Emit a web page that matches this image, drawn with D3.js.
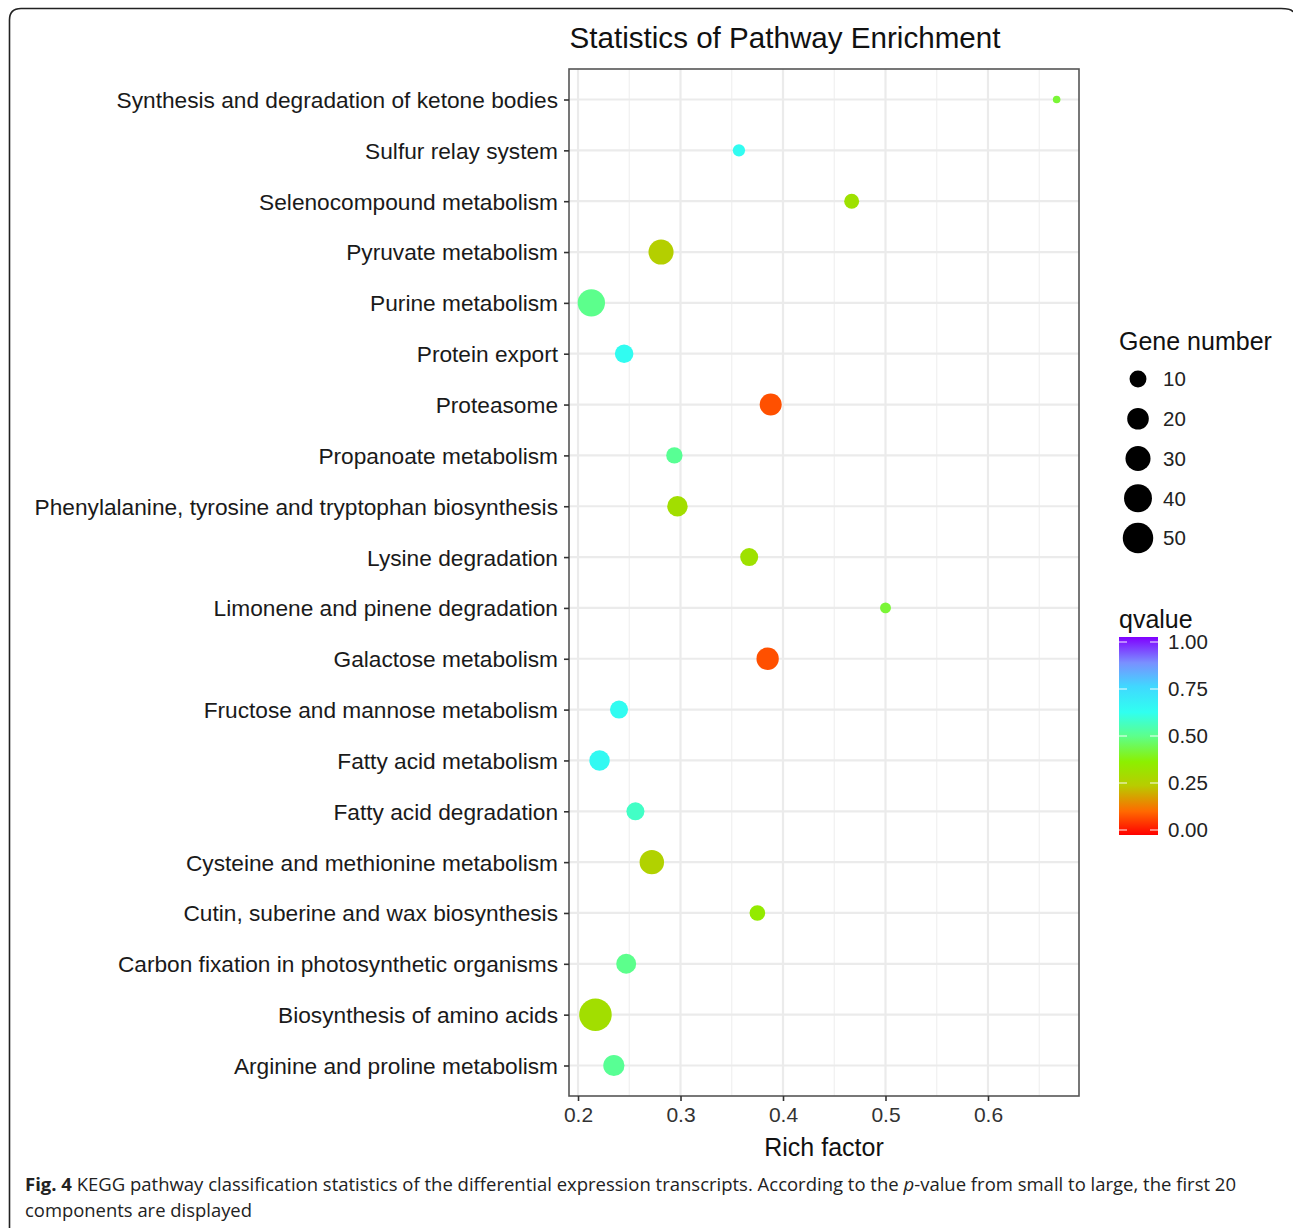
<!DOCTYPE html>
<html><head><meta charset="utf-8">
<script src="https://cdn.jsdelivr.net/npm/d3@7"></script>
<style>body{margin:0;background:#fff}svg{display:block}</style>
</head><body>
<svg id="c" width="1293" height="1228"></svg>
<script>
// ---- data (top to bottom as displayed) ----
const pathways = [
  "Synthesis and degradation of ketone bodies",
  "Sulfur relay system",
  "Selenocompound metabolism",
  "Pyruvate metabolism",
  "Purine metabolism",
  "Protein export",
  "Proteasome",
  "Propanoate metabolism",
  "Phenylalanine, tyrosine and tryptophan biosynthesis",
  "Lysine degradation",
  "Limonene and pinene degradation",
  "Galactose metabolism",
  "Fructose and mannose metabolism",
  "Fatty acid metabolism",
  "Fatty acid degradation",
  "Cysteine and methionine metabolism",
  "Cutin, suberine and wax biosynthesis",
  "Carbon fixation in photosynthetic organisms",
  "Biosynthesis of amino acids",
  "Arginine and proline metabolism"
];
const richFactor = [0.667,0.357,0.467,0.281,0.213,0.245,0.388,0.294,0.297,0.367,0.500,0.385,0.240,0.221,0.256,0.272,0.375,0.247,0.217,0.235];
const geneNumber = [2,4,7,30,38,13,21,9,17,12,3,22,12,17,12,28,8,16,59,19];
const qvalue     = [0.42,0.63,0.32,0.26,0.50,0.63,0.09,0.51,0.31,0.32,0.42,0.09,0.63,0.64,0.57,0.27,0.35,0.50,0.31,0.51];
const xTicks = [0.2,0.3,0.4,0.5,0.6];
const sizeBreaks = [10,20,30,40,50];
const qBreaks = [0.00,0.25,0.50,0.75,1.00];
const qStopPos = [0,0.12,0.25,0.37,0.5,0.62,0.75,0.87,1];
const qStopCol = ["#ff0000","#ff6a00","#b8cc00","#8cf000","#5cff8c","#30fff0","#40d8ff","#7a90ff","#8000ff"];

const svg = d3.select("#c");
const FONT = "'Liberation Sans', Arial, Helvetica, sans-serif";

// frame
svg.append("path")
  .attr("d","M9.5,1228 L9.5,20 Q9.5,8.5 21,8.5 L1281,8.5 Q1291.5,8.5 1293,12")
  .attr("fill","none").attr("stroke","#222").attr("stroke-width",1.6);

const P = {l:569, r:1079, t:69, b:1096};
const x = d3.scaleLinear().domain([0.1912,0.6888]).range([P.l,P.r]);
const y = d3.scalePoint().domain(pathways).range([P.t,P.b]).padding(0.6);
const rScale = d3.scaleLinear().domain([0, Math.sqrt(57)]).range([3.8, 3.8+1.65*Math.sqrt(57)]);
const r = v => rScale(Math.sqrt(Math.max(0, v-2)));
const col = d3.scaleLinear().domain(qStopPos).range(qStopCol).interpolate(d3.interpolateRgb);

const g = svg.append("g");
g.append("rect").attr("x",P.l).attr("y",P.t).attr("width",P.r-P.l).attr("height",P.b-P.t).attr("fill","#fff");
const minor = d3.range(0.25,0.70,0.1);
g.selectAll(".mn").data(minor).join("line")
  .attr("x1",d=>x(d)).attr("x2",d=>x(d)).attr("y1",P.t).attr("y2",P.b)
  .attr("stroke","#f0f0f0").attr("stroke-width",1.2);
g.selectAll(".mjx").data(xTicks).join("line")
  .attr("x1",d=>x(d)).attr("x2",d=>x(d)).attr("y1",P.t).attr("y2",P.b)
  .attr("stroke","#ebebeb").attr("stroke-width",2.2);
g.selectAll(".mjy").data(pathways).join("line")
  .attr("x1",P.l).attr("x2",P.r).attr("y1",d=>y(d)).attr("y2",d=>y(d))
  .attr("stroke","#ebebeb").attr("stroke-width",2.2);

g.selectAll(".pt").data(pathways).join("circle")
  .attr("cx",(d,i)=>x(richFactor[i])).attr("cy",d=>y(d))
  .attr("r",(d,i)=>r(geneNumber[i])).attr("fill",(d,i)=>col(qvalue[i]));

g.append("rect").attr("x",P.l).attr("y",P.t).attr("width",P.r-P.l).attr("height",P.b-P.t)
  .attr("fill","none").attr("stroke","#555").attr("stroke-width",1.6);

const yAx = svg.append("g").attr("transform",`translate(${P.l},0)`)
  .call(d3.axisLeft(y).tickSize(5).tickPadding(6));
yAx.select(".domain").remove();
yAx.selectAll("line").attr("stroke","#333").attr("stroke-width",1.6);
yAx.selectAll("text").attr("font-family",FONT).attr("font-size",22.7).attr("fill","#1a1a1a").attr("dy","0.35em");

const xAx = svg.append("g").attr("transform",`translate(0,${P.b})`)
  .call(d3.axisBottom(x).tickValues(xTicks).tickSize(5).tickPadding(6).tickFormat(d3.format(".1f")));
xAx.select(".domain").remove();
xAx.selectAll("line").attr("stroke","#333").attr("stroke-width",1.6);
xAx.selectAll("text").attr("font-family",FONT).attr("font-size",21).attr("fill","#333");

svg.append("text").attr("x",785).attr("y",48).attr("text-anchor","middle")
  .attr("font-family",FONT).attr("font-size",29.6).attr("fill","#111").text("Statistics of Pathway Enrichment");
svg.append("text").attr("x",824).attr("y",1156).attr("text-anchor","middle")
  .attr("font-family",FONT).attr("font-size",25).attr("fill","#111").text("Rich factor");

svg.append("text").attr("x",1119).attr("y",350).attr("font-family",FONT).attr("font-size",25).attr("fill","#111").text("Gene number");
const ly = d3.scaleLinear().domain([10,50]).range([379,538]);
const sl = svg.append("g");
sl.selectAll("circle").data(sizeBreaks).join("circle")
  .attr("cx",1138).attr("cy",d=>ly(d)).attr("r",d=>r(d)).attr("fill","#000");
sl.selectAll("text").data(sizeBreaks).join("text")
  .attr("x",1163).attr("y",d=>ly(d)).attr("dy","0.36em")
  .attr("font-family",FONT).attr("font-size",20.5).attr("fill","#222").text(d=>d);

svg.append("text").attr("x",1119).attr("y",628).attr("font-family",FONT).attr("font-size",25).attr("fill","#111").text("qvalue");
const qy = d3.scaleLinear().domain([0,1]).range([830,642]);
const defs = svg.append("defs");
const grad = defs.append("linearGradient").attr("id","qg").attr("x1",0).attr("y1",1).attr("x2",0).attr("y2",0);
grad.selectAll("stop").data(qStopPos).join("stop")
  .attr("offset",d=>d).attr("stop-color",(d,i)=>qStopCol[i]);
svg.append("rect").attr("x",1119).attr("y",qy(1)-5).attr("width",39).attr("height",qy(0)-qy(1)+10).attr("fill","url(#qg)");
const cl = svg.append("g");
cl.selectAll(".tl").data(qBreaks).join("line")
  .attr("x1",1119).attr("x2",1127).attr("y1",d=>qy(d)).attr("y2",d=>qy(d)).attr("stroke","#fff").attr("stroke-opacity",0.8).attr("stroke-width",1.2);
cl.selectAll(".tr").data(qBreaks).join("line")
  .attr("x1",1150).attr("x2",1158).attr("y1",d=>qy(d)).attr("y2",d=>qy(d)).attr("stroke","#fff").attr("stroke-opacity",0.8).attr("stroke-width",1.2);
cl.selectAll("text").data(qBreaks).join("text")
  .attr("x",1168).attr("y",d=>qy(d)).attr("dy","0.36em")
  .attr("font-family",FONT).attr("font-size",20.5).attr("fill","#222").text(d=>d3.format(".2f")(d));

const CF = "'Open Sans', 'Noto Sans', sans-serif";
const c1 = svg.append("text").attr("x",25).attr("y",1191).attr("font-family",CF).attr("font-size",18).attr("fill","#222")
  .attr("textLength",1211).attr("lengthAdjust","spacingAndGlyphs");
c1.append("tspan").attr("font-weight","bold").text("Fig. 4");
c1.append("tspan").text(" KEGG pathway classification statistics of the differential expression transcripts. According to the ");
c1.append("tspan").attr("font-style","italic").text("p");
c1.append("tspan").text("-value from small to large, the first 20");
svg.append("text").attr("x",25).attr("y",1217).attr("font-family",CF).attr("font-size",18).attr("fill","#222")
  .attr("textLength",227).attr("lengthAdjust","spacingAndGlyphs").text("components are displayed");
</script>
</body></html>
